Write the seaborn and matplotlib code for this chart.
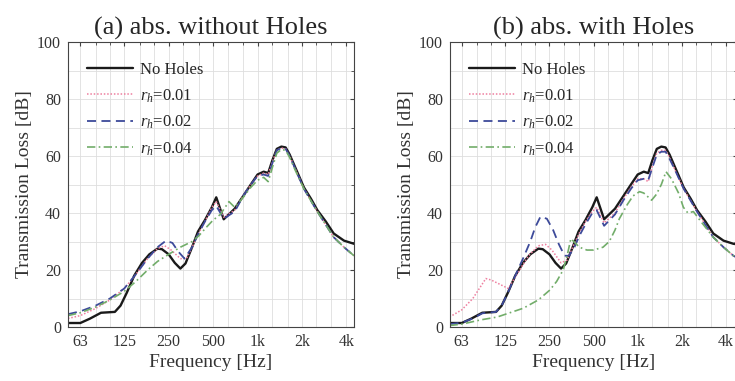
import matplotlib
matplotlib.use("Agg")
import matplotlib.pyplot as plt
import matplotlib.ticker as mticker
import seaborn as sns
import numpy as np

sns.set_style("white")
plt.rcParams['font.family'] = ['Liberation Serif', 'DejaVu Serif']
plt.rcParams['mathtext.fontset'] = 'custom'
plt.rcParams['mathtext.it'] = 'Liberation Serif:italic'
plt.rcParams['mathtext.rm'] = 'Liberation Serif'

# ---------------- data ----------------
# No Holes (same in both panels)
freq_nh = [52, 63, 73, 87, 108, 118, 130, 146, 165, 185, 210, 225, 250, 275, 300, 325, 360, 395, 440, 490,
           525, 590, 700, 800, 900, 1000, 1100, 1180, 1260, 1350, 1450, 1550, 1650, 1800, 2060, 2300, 2540,
           2900, 3280, 3850, 4500, 4800]
tl_nh = [1.4, 1.4, 2.9, 5.0, 5.3, 7.5, 12, 18, 22.5, 25.5, 27.5, 27.3, 25.5, 22.5, 20.5, 22.3, 28, 33.5, 37.5, 42,
         45.5, 37.8, 41.5, 46, 50, 53.5, 54.5, 54, 58.5, 62.5, 63.3, 63, 60.5, 56, 49, 45, 41,
         37, 32.8, 30.3, 29.2, 29.0]

# panel (a): absorber without holes
freq_a01 = [52, 63, 80, 100, 125, 150, 180, 210, 235, 260, 300, 330, 360, 400, 440, 490, 525, 590, 700, 800,
            900, 1000, 1100, 1180, 1260, 1350, 1450, 1550, 1650, 1800, 2060, 2540, 3280, 3850, 4500]
tl_a01 = [3, 4, 6.5, 9.5, 13.5, 18.5, 24, 27.5, 28.5, 27, 24, 24, 28, 33, 37, 42, 44, 38.5, 41, 46,
          50, 53, 54, 53.5, 58, 62, 62.8, 62.5, 60, 55.5, 48.5, 40.5, 31.5, 28, 25]

freq_a02 = [52, 63, 80, 100, 125, 150, 180, 210, 240, 265, 290, 320, 360, 400, 440, 490, 525, 590, 700, 800,
            900, 1000, 1100, 1180, 1260, 1350, 1450, 1550, 1650, 1800, 2060, 2540, 3280, 3850, 4500]
tl_a02 = [4.5, 5.5, 7.5, 10, 13.5, 18.5, 24, 28, 30.3, 29.5, 26.5, 24, 28, 33, 37, 41, 42.5, 38, 40.5, 46,
          50, 53, 53.5, 53, 57.5, 62, 62.8, 62.5, 60, 55.5, 48.5, 40.5, 31.5, 28, 25]

freq_a04 = [52, 63, 80, 100, 125, 150, 180, 210, 250, 300, 360, 400, 450, 500, 560, 640, 700, 800, 900, 1000,
            1100, 1180, 1260, 1350, 1450, 1550, 1650, 1800, 2060, 2540, 3280, 3850, 4500]
tl_a04 = [4, 5, 7, 9.5, 12.5, 16, 20, 23, 25.5, 28, 30, 32, 35, 37.5, 39.5, 44, 42, 45.5, 49, 51.5,
          52.5, 51, 56, 61, 62.3, 62, 59.5, 55, 48.5, 40.5, 31.5, 28, 25]

# panel (b): absorber with holes
freq_b01 = [52, 63, 75, 92, 100, 131, 150, 180, 210, 235, 260, 300, 330, 360, 400, 440, 490, 525, 590, 700,
            800, 900, 1000, 1100, 1180, 1260, 1350, 1450, 1550, 1650, 1800, 2060, 2540, 3280, 3850, 4500, 4800]
tl_b01 = [3.5, 6, 10, 17, 16.5, 13.5, 18.5, 25, 28.5, 29, 27, 22.5, 23.5, 28, 33, 37, 40.5, 42, 36.5, 40,
          45, 49, 52, 52, 51, 56.5, 61, 62, 62, 59.5, 55, 48.5, 40.5, 31.5, 28, 25, 24.2]

freq_b02 = [52, 63, 75, 87, 108, 118, 130, 146, 165, 185, 200, 217, 240, 265, 290, 317, 340, 370, 400, 440,
            490, 525, 590, 700, 800, 900, 1000, 1100, 1180, 1260, 1350, 1450, 1550, 1650, 1800, 2060, 2540,
            3280, 3850, 4500, 4800]
tl_b02 = [1, 1.5, 3, 4.8, 5.3, 7.5, 12, 18, 24, 30, 35, 38.7, 38, 34, 29, 25, 25, 28, 32, 36,
          40, 41, 35.5, 39.5, 44.5, 48.5, 51.5, 52, 51.5, 56, 60.5, 61.5, 61.5, 59, 55, 48.5, 40.5,
          31.5, 28, 25, 24.2]

freq_b04 = [52, 63, 85, 110, 166, 210, 252, 280, 310, 330, 350, 400, 450, 500, 580, 640, 700, 750, 850, 930,
            1030, 1100, 1245, 1340, 1450, 1560, 1700, 1900, 2050, 2200, 2400, 2700, 3280, 3850, 4500, 4800]
tl_b04 = [0.5, 1, 2.5, 3.5, 6.6, 9.5, 13, 16, 20, 25, 31, 28, 27, 27, 28, 30, 34, 38, 43, 46,
          47.5, 47, 44.5, 46.5, 50, 54.5, 52, 47, 42, 40, 40.5, 37, 31.5, 28, 25, 24.2]

labels = ["No Holes", "$r_h$=0.01", "$r_h$=0.02", "$r_h$=0.04"]
xtick_vals = [63, 125, 250, 500, 1000, 2000, 4000]
xtick_labels = ["63", "125", "250", "500", "1k", "2k", "4k"]
third_oct = [63, 80, 100, 125, 160, 200, 250, 315, 400, 500, 630, 800, 1000, 1250,
             1600, 2000, 2500, 3150, 4000]
titles = ["(a) abs. without Holes", "(b) abs. with Holes"]

styles = [dict(color="#1a1a1a", linestyle="-", lw=1.7),
          dict(color="#ee7f9f", linestyle=(0, (1, 1.2)), lw=1.1),
          dict(color="#3d4a9a", linestyle=(0, (5, 3)), lw=1.3),
          dict(color="#72ad6a", linestyle=(0, (5, 2, 1, 2)), lw=1.2)]

panels = [
    [(freq_nh, tl_nh), (freq_a01, tl_a01), (freq_a02, tl_a02), (freq_a04, tl_a04)],
    [(freq_nh, tl_nh), (freq_b01, tl_b01), (freq_b02, tl_b02), (freq_b04, tl_b04)],
]
xlims = [(52, 4500), (52.4, 4760)]

W, H = 735, 381
fig = plt.figure(figsize=(W / 100, H / 100), dpi=100)
ax_pos = [[68, 42, 286, 285], [450, 42, 287, 285]]

for i, (series, pos) in enumerate(zip(panels, ax_pos)):
    l, t, w, h = pos
    ax = fig.add_axes([l / W, (H - t - h) / H, w / W, h / H])
    for (fx, ty), st, lab in zip(series, styles, labels):
        sns.lineplot(x=fx, y=ty, ax=ax, label=lab, errorbar=None, **st)
    ax.set_xscale("log")
    ax.set_xlim(*xlims[i])
    ax.set_ylim(0, 100)
    ax.xaxis.set_major_locator(mticker.FixedLocator(xtick_vals))
    ax.xaxis.set_major_formatter(mticker.FixedFormatter(xtick_labels))
    ax.xaxis.set_minor_locator(mticker.FixedLocator(third_oct))
    ax.xaxis.set_minor_formatter(mticker.NullFormatter())
    ax.yaxis.set_major_locator(mticker.MultipleLocator(20))
    ax.yaxis.set_minor_locator(mticker.MultipleLocator(10))
    ax.grid(True, which="both", color="#dedede", lw=0.6)
    ax.set_axisbelow(True)
    ax.tick_params(which="both", direction="in", top=True, right=True, labelsize=11.5,
                   color="#444444", labelcolor="#333333", pad=5)
    ax.tick_params(which="major", length=3)
    ax.tick_params(which="minor", length=2)
    for sp in ax.spines.values():
        sp.set_color("#444444")
        sp.set_linewidth(0.8)
    ax.set_xlabel("Frequency [Hz]", fontsize=14, color="#333333", labelpad=3)
    ax.set_ylabel("Transmission Loss [dB]", fontsize=14, color="#333333", labelpad=3)
    ax.set_title(titles[i], fontsize=19, pad=5)
    leg = ax.legend(loc="upper left", bbox_to_anchor=(0.03, 0.965), frameon=False,
                    fontsize=12, handlelength=2.8, handletextpad=0.4, labelspacing=0.55,
                    borderpad=0.3, borderaxespad=0.3)

fig.savefig("out.png", dpi=100)
